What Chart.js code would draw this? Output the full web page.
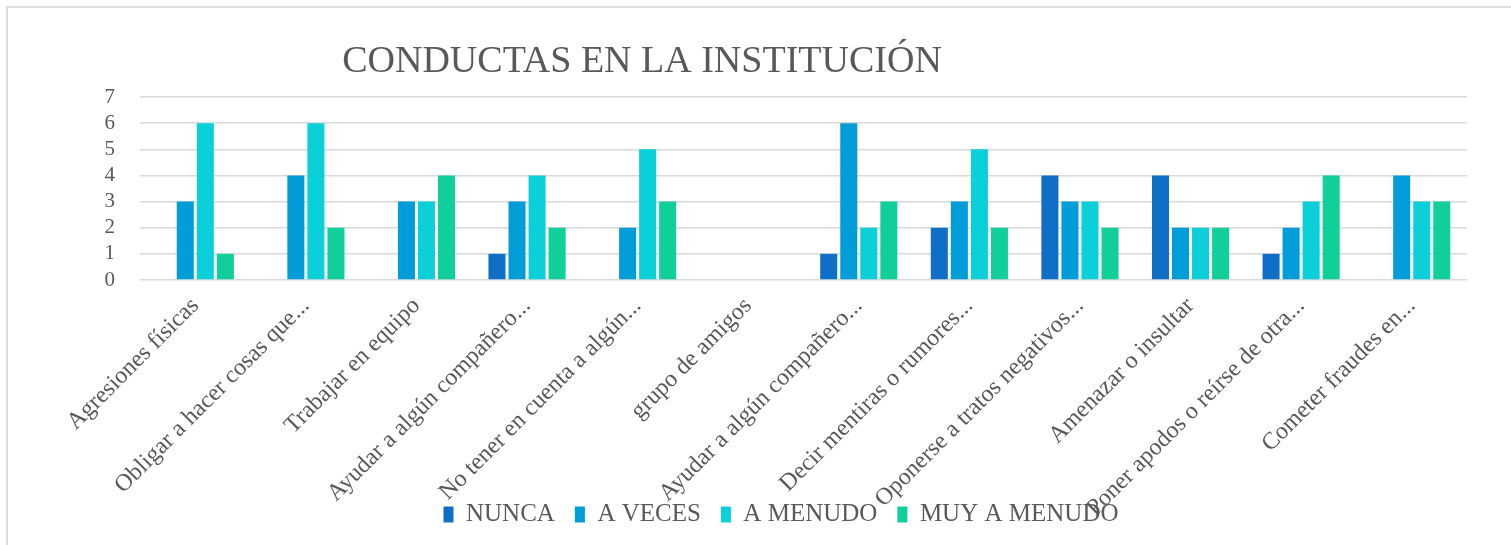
<!DOCTYPE html>
<html>
<head>
<meta charset="utf-8">
<script src="https://cdn.jsdelivr.net/npm/chart.js@4.4.0/dist/chart.umd.min.js"></script>
<style>
  html, body { margin: 0; padding: 0; background: #fff; }
  #marco { position: absolute; left: 6px; top: 6px; width: 1520px; height: 560px; border: 2px solid #dcdcdc; }
  #caja { position: absolute; left: 0; top: 0; width: 1511px; height: 545px; }
</style>
</head>
<body>
<div id="marco"></div>
<div id="caja"><canvas id="myChart"></canvas></div>
<script>
// categorias del eje x
var categorias = [
    'Agresiones físicas',
    'Obligar a hacer cosas que...',
    'Trabajar en equipo',
    'Ayudar a algún compañero...',
    'No tener en cuenta a algún...',
    'grupo de amigos',
    'Ayudar a algún compañero...',
    'Decir mentiras o rumores...',
    'Oponerse a tratos negativos...',
    'Amenazar o insultar',
    'Poner apodos o reírse de otra...',
    'Cometer fraudes en...'
]
// series
var nunca = [0, 0, 0, 1, 0, 0, 1, 2, 4, 4, 1, 0]
var aVeces = [3, 4, 3, 3, 2, 0, 6, 3, 3, 2, 2, 4]
var aMenudo = [6, 6, 3, 4, 5, 0, 2, 5, 3, 2, 3, 3]
var muyAMenudo = [1, 2, 4, 2, 3, 0, 3, 2, 2, 2, 4, 3]
var titulo = 'CONDUCTAS EN LA INSTITUCIÓN'
var ejeY = [0, 1, 2, 3, 4, 5, 6, 7]

var gris = '#595959'
var fuente = "'Liberation Serif', 'DejaVu Serif', serif"

Chart.defaults.font.family = fuente
Chart.defaults.color = gris

// titulo dibujado a mano (va corrido a la izquierda como en el original)
const tituloPlugin = {
    id: 'tituloPlugin',
    afterLayout(chart) {
        // que las etiquetas largas del eje x pasen por encima de la leyenda
        chart.scales.x.bottom = chart.height
    },
    afterDraw(chart) {
        const ctx = chart.ctx
        ctx.save()
        ctx.font = '38px ' + fuente
        ctx.fillStyle = gris
        ctx.textAlign = 'center'
        ctx.textBaseline = 'alphabetic'
        ctx.fillText(titulo, 642, 72)
        ctx.restore()
    }
}

const data = {
    labels: categorias,
    datasets: [
        { label: 'NUNCA', data: nunca, backgroundColor: '#0F6FC6' },
        { label: 'A VECES', data: aVeces, backgroundColor: '#009DD9' },
        { label: 'A MENUDO', data: aMenudo, backgroundColor: '#0BD0D9' },
        { label: 'MUY A MENUDO', data: muyAMenudo, backgroundColor: '#10CF9B' }
    ]
}

const opciones = {
    maintainAspectRatio: false,
    responsive: true,
    animation: false,
    datasets: {
        bar: { categoryPercentage: 0.725, barPercentage: 0.85 }
    },
    layout: {
        padding: { left: 95, right: 44, top: 97, bottom: 8 }
    },
    plugins: {
        title: { display: false },
        tooltip: { enabled: false },
        legend: {
            position: 'bottom',
            labels: {
                boxWidth: 10,
                boxHeight: 16,
                padding: 20,
                color: gris,
                font: { size: 25, family: fuente }
            }
        }
    },
    scales: {
        x: {
            grid: { display: false, drawTicks: false },
            border: { display: false },
            ticks: {
                autoSkip: false,
                maxRotation: 45,
                minRotation: 45,
                padding: 12,
                color: gris,
                font: { size: 24, family: fuente }
            },
            afterFit: (scale) => { scale.height = 202 }
        },
        y: {
            min: 0,
            max: 7,
            grid: { color: '#d9d9d9', lineWidth: 1.5, drawTicks: false },
            border: { display: false },
            ticks: {
                autoSkip: false,
                stepSize: 1,
                padding: 25,
                color: gris,
                font: { size: 21, family: fuente },
                callback: (v) => ejeY.includes(v) ? v : ''
            },
            afterFit: (scale) => { scale.width = 45 }
        }
    }
}

var ctx = document.getElementById('myChart')
var chart = new Chart(ctx, {
    type: 'bar',
    data: data,
    options: opciones,
    plugins: [tituloPlugin]
})
</script>
</body>
</html>
